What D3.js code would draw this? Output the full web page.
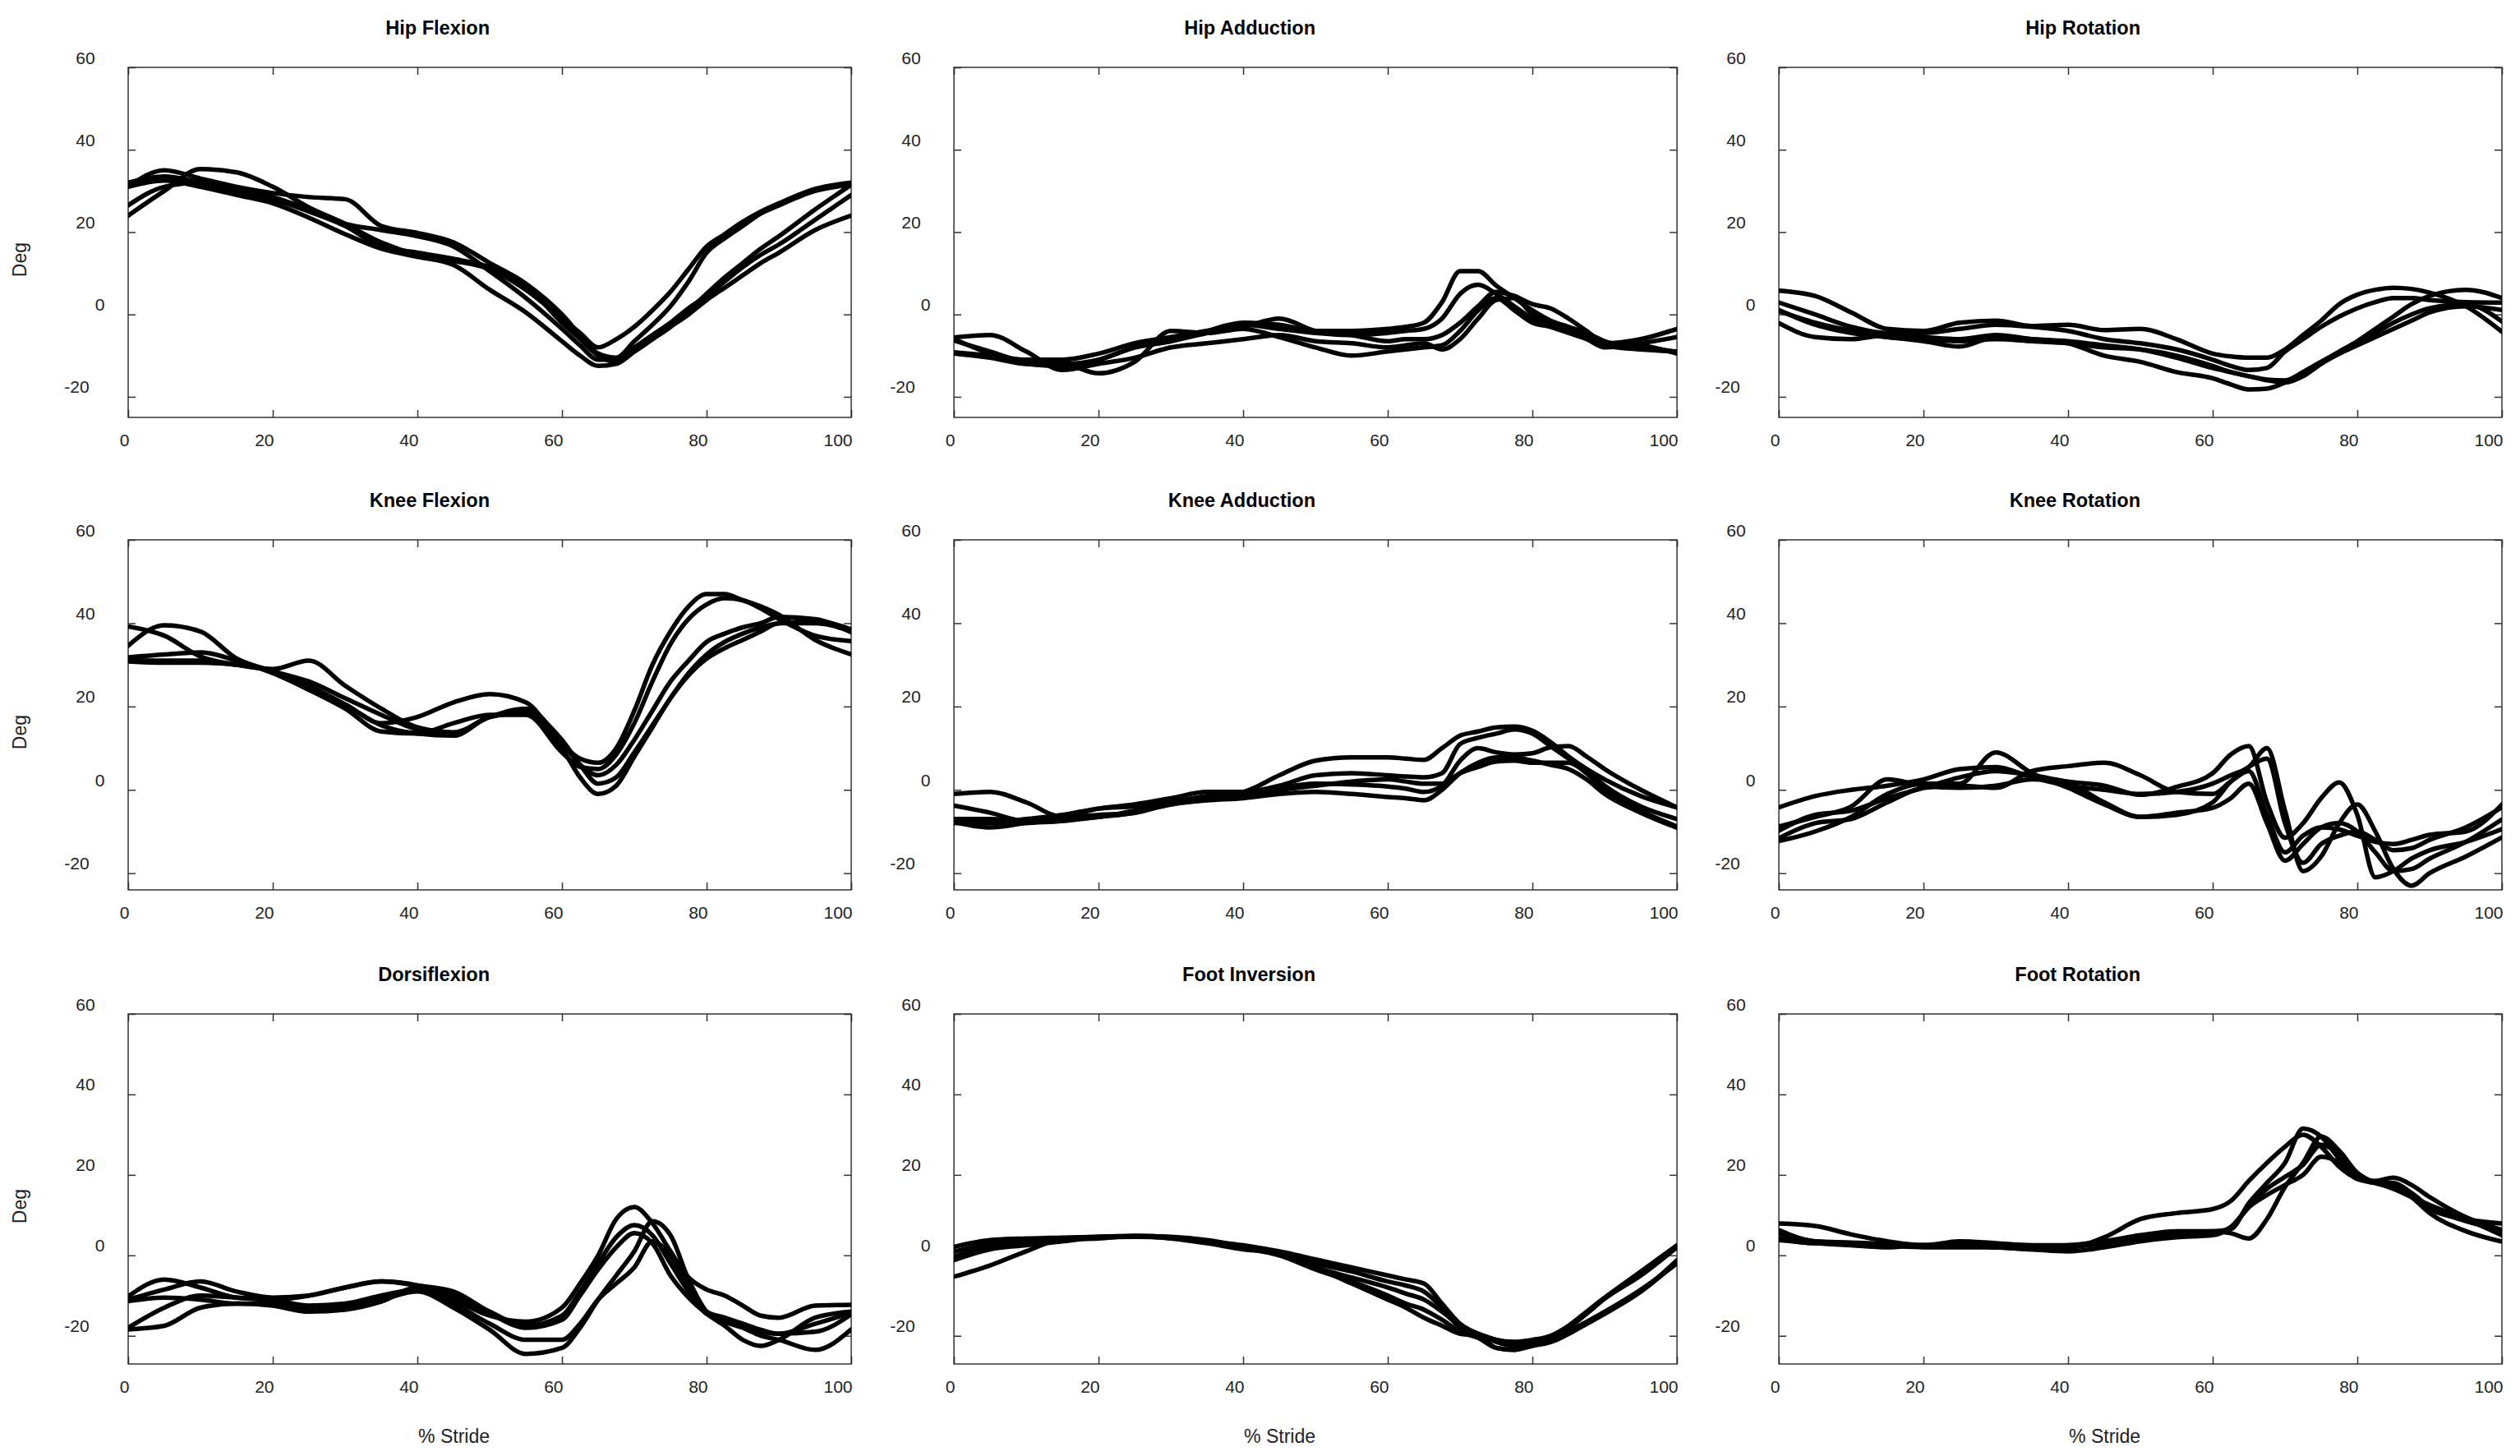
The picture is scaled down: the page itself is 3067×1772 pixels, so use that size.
<!DOCTYPE html>
<html><head>
<meta charset="utf-8">
<title>Joint angles over the stride</title>
<script src="https://d3js.org/d3.v7.min.js"></script>
<style>
  body { margin: 0; background: #fff; }
  text { font-family: Arial, "Liberation Sans", Helvetica, sans-serif; }
</style>
</head>
<body>
<svg id="chart" width="3067" height="1772"></svg>

<script>
// % stride sample points (finer around swing where the curves move fast)
const stride = [0, 5, 10, 15, 20, 25, 30, 35, 40, 45, 50, 55, 60, 62.5, 65, 67.5, 70, 72.5, 75, 77.5, 80, 82.5, 85, 87.5, 90, 95, 100];

const xTicks = [0, 20, 40, 60, 80, 100];
const yTicks = [60, 40, 20, 0, -20];
const rowMin = [-25, -24, -27];   // lower edge of each row of plots
const yMax = 60;

// five trials per joint angle, degrees
const hipFlexion = [
  [24, 30, 35.3, 34.5, 31, 26, 22, 17.5, 14.5, 13, 11, 6, -1, -4.5, -8, -6, -3, 1, 5.5, 11, 16.5, 19.5, 22.5, 25, 27, 30.5, 32],
  [31, 35, 33, 31, 29.5, 28.5, 28, 21.5, 19.8, 17.5, 12.5, 7.5, 0, -5, -9.5, -10.5, -6.5, -2.5, 2, 8, 15, 18.5, 21.5, 24.5, 26.5, 30, 31.5],
  [32, 33.5, 32, 30, 28, 25, 21.5, 16.5, 15, 13.5, 11.5, 7, -2, -6, -10, -11.5, -9, -6, -3, 0, 3.5, 6.5, 9.5, 12.5, 15, 20.5, 24],
  [31, 32.5, 31, 29, 27, 23.5, 19.5, 16, 14, 12, 6, 0.5, -6.5, -10, -12.5, -12, -9, -6, -3, 1, 5, 9, 12.5, 16, 19, 25.5, 31.5],
  [26.5, 31, 32, 30.5, 28.5, 25.5, 22, 20.5, 19, 16.5, 10.5, 4, -3.5, -7.5, -11, -11, -8, -5, -2, 1.5, 4.5, 8, 11.5, 14.5, 17, 23, 29]
];
const hipAdduction = [
  [-6.3, -9, -11.5, -12, -11, -8, -6.5, -4, -2, -2.5, -4, -4, -3.5, -3, -2, 3, 10.5, 10.5, 7, 4, 1, -1.5, -3, -4.5, -6.5, -8, -9],
  [-6, -9.5, -12, -12.5, -11, -8, -6.5, -4.5, -2.5, -3.5, -4.5, -5, -4.5, -4, -3.5, -1, 5, 7.2, 5, 2, -1, -2.5, -4, -5.5, -7, -6, -3.5],
  [-9.2, -10, -11, -11, -9.5, -7, -5.5, -4, -3, -1, -4, -5, -6.5, -6, -6, -5, -2, 2, 5.5, 4.5, 2.5, 1.5, -1, -4, -7, -7.5, -9.5],
  [-9.5, -10.5, -12, -12, -14.3, -11.5, -4, -4.5, -3.5, -5.5, -8, -10, -9, -8.5, -8, -7.5, -4, 1, 4, 1, -2, -3, -4.5, -6, -8, -7, -5.5],
  [-5.6, -5, -9, -13.5, -12, -10.5, -8, -7, -6, -5, -6.5, -7, -8, -7.5, -7, -8.5, -6, -1, 3.5, 4, 0, -2, -4, -5.5, -7.5, -8.5, -9]
];
const hipRotation = [
  [5.8, 4.5, 0.5, -3.5, -4, -2, -1.5, -2.8, -2.5, -3.8, -3.5, -6, -9.5, -10.2, -10.5, -10.5, -8.5, -5, -1.5, 2.5, 4.8, 6, 6.5, 6.2, 5.3, 2, -4.2],
  [2.9, 0, -3, -4.5, -4.5, -3.5, -2.5, -3, -4, -6, -7, -8.5, -11, -12.5, -13.5, -13, -9, -6, -3, -0.5, 1.5, 3, 4, 4, 3.5, 3, 2.9],
  [0.8, -2, -4, -5.5, -6, -6.5, -6, -6.5, -7, -8, -8.5, -10, -12.5, -14, -15, -15.8, -16, -14, -11.5, -9, -6.5, -3.5, -0.5, 2.5, 4.5, 6, 4],
  [-2.1, -5.5, -6, -5, -5.5, -6, -5, -6, -7, -10, -11.5, -14, -15.5, -17, -18.2, -18, -16.5, -14, -11.5, -9.5, -7.5, -5.5, -3.5, -1.5, 0.5, 2, 1.1],
  [1.1, -2.5, -4.5, -5.5, -6.5, -7.8, -5.5, -6, -6.5, -7.5, -8.5, -10.5, -13, -14, -15, -16, -16.5, -15, -12, -9.5, -7, -4.5, -2, 0, 1.5, 2.5, -1.7]
];
const kneeFlexion = [
  [34.6, 39.5, 38, 31.5, 28.5, 26, 22, 18, 14.5, 13.5, 17.5, 18.5, 12, 6, 1.5, 3, 9, 15.5, 22, 28, 32.5, 35.5, 37.5, 39, 40, 40.5, 38.5],
  [39.2, 37, 32, 30, 28.5, 25, 20.5, 15.5, 13.5, 13, 17.5, 18.5, 10, 3, -1, 1, 8, 15, 22, 27.5, 31.5, 34, 36, 38, 40, 40, 38],
  [31.1, 31, 31, 30, 29, 31, 25, 19.5, 15, 13.8, 17.5, 19.5, 11.5, 6, 3.5, 6, 12, 19, 26, 31, 35.5, 37.5, 39, 40, 41.5, 41, 37.8],
  [30.8, 30.5, 30.5, 30, 28.5, 24, 20.5, 16, 17.5, 21, 23, 21, 11, 7.5, 6.5, 10, 19, 30, 38, 44, 47, 47, 45.5, 44, 42, 36, 32.5],
  [31.8, 32.5, 33, 31, 28, 24, 19.5, 14, 13.5, 16, 18, 18, 9, 5.5, 5, 8.5, 16, 26, 35, 41, 44.5, 46, 45.5, 43.5, 41, 37, 35.7]
];
const kneeAdduction = [
  [-1, -0.5, -3, -6.5, -6, -5.5, -3, -1.5, -0.5, 3.5, 7, 7.8, 7.8, 7.5, 7.2, 10, 13, 14, 15, 15.2, 14.2, 11.5, 8, 5, 2.5, -1.5, -4.2],
  [-3.8, -5.5, -7.5, -6.5, -4.5, -3.5, -2, -0.5, -0.5, 1, 3.5, 4, 3.5, 3.2, 3, 4, 11, 12.5, 13.5, 14.5, 13.5, 10.5, 7.5, 4.5, 1, -4, -7],
  [-7, -7, -7.5, -7, -6.5, -5, -3.5, -2, -1, 0.5, 1.5, 1.3, 0.8, 0.3, -0.5, 1, 7, 10, 9, 8.5, 8.8, 10.2, 10.5, 8, 5, 0, -4.2],
  [-7.7, -9, -8, -7.5, -6.5, -5.5, -3.5, -2.5, -2, -1, -0.5, -1, -1.7, -2, -2.5, 0, 4, 6.5, 7.8, 7.8, 7, 6, 5, 2.5, -1, -5.5, -9.1],
  [-8, -8, -7, -6, -4.5, -4, -3, -1.5, -1, 0, 1, 2, 2.5, 2, 1.5, 1.5, 4, 5.5, 6.8, 7, 6.5, 6.5, 6.5, 4, 0, -5, -8.8]
];
const kneeRotation = [
  [-9.8, -6, -5, -2, 0.5, 3, 4.5, 3.5, 2, 1, -1.2, 0.7, 4, 8.5, 10.5, -3, -11.5, -8, -2, 1.8, -6, -21, -19.5, -16.5, -14.5, -12.5, -9.4],
  [-4.2, -1.5, 0, 1, 2.5, 5, 5.5, 3, 1, 0, -1, -0.5, 1.5, 3.5, 5.5, 10, -5, -19.5, -16, -8, -3.5, -10, -19, -23, -20, -16, -11.4],
  [-8.8, -6.5, -4, 2.5, 1, 0.5, 1, 2.5, 1.5, -3, -6.5, -6, -3, 2, 5.5, 7.5, -8, -17.5, -13, -11, -10, -12, -14.5, -14, -12, -9, -4.2],
  [-11.6, -8, -7, -3, 0.5, 1, 0.5, 4.5, 5.7, 6.5, 3.5, -0.5, -1, 2, 4.5, -6, -15, -11, -9, -9.5, -11, -12.5, -13, -12, -10.8, -10, -3.5],
  [-12.3, -10, -6.5, -1, 1.5, 1.5, 9, 4, 0.5, -3.5, -6.5, -5.5, -4.3, -2, 1.5, -8, -17, -13, -9, -8, -10, -15, -19.5, -19, -16.5, -12.5, -7.1]
];
const dorsiflexion = [
  [-10.2, -6, -8, -10.5, -11, -10, -8, -6.5, -7.5, -11, -15, -16.5, -13, -7, 0, 9, 12, 8, 1, -5.5, -8.5, -10, -12.5, -15, -15.5, -12.5, -12.3],
  [-11.4, -10.5, -11, -12, -12, -13.5, -12.5, -11, -9, -13, -18.5, -24.5, -23, -18, -11, -5, 1, 8.5, 5, -6, -14, -16.5, -18, -20, -21, -23.5, -18.4],
  [-18, -13, -10, -10.5, -11, -12.5, -12, -10, -8.5, -12, -17, -21, -21, -17, -11, -7, -3, 3.5, 0, -8, -14, -15.5, -17, -18.5, -19.5, -17, -14.3],
  [-11, -8.5, -6.5, -9, -10.5, -10, -8, -6.5, -7.5, -9, -14, -17.5, -15, -9, -2, 4.5, 7.5, 5, -2, -9, -14.5, -16, -17, -19, -19.5, -19, -14.7],
  [-18.4, -17.5, -13, -12, -12.5, -14, -13.5, -11.5, -8, -10, -14.5, -18, -16, -10, -3.5, 2, 5.5, 3, -5, -10.5, -14.5, -17.5, -21, -22.5, -21, -15.5, -14]
];
const footInversion = [
  [2.1, 3.8, 4.2, 4.4, 4.6, 4.8, 4.5, 3.5, 2.5, 1, -1, -3, -5, -6, -7, -12, -17, -19.5, -21, -21.5, -21, -20, -17.5, -14, -10.5, -4, 2.5],
  [0.9, 2.8, 3.5, 4.2, 4.6, 4.8, 4.6, 3.8, 2.2, 0.5, -2, -4, -6.5, -7.5, -9, -13, -18, -19.5, -21, -21.8, -21.5, -20.5, -18, -14.5, -10.8, -5, 2],
  [-0.3, 2, 3, 3.8, 4.5, 4.7, 4.2, 3, 1.5, 0.5, -3, -5.5, -8, -9.5, -11, -14, -17.5, -19.5, -21.5, -22.5, -22, -21.5, -19.5, -17, -14.5, -9, -1.2],
  [-1.2, 1.5, 2.5, 3.5, 4.4, 4.6, 4.3, 3.2, 1.8, 0, -3.5, -6.5, -10, -12, -13.5, -16, -19, -20.5, -23, -23.5, -22.5, -21.5, -19, -16.5, -14, -8.5, -2],
  [-5.3, -2.5, 1, 4, 4.2, 4.8, 4.4, 3.5, 2, 0.5, -3, -7, -11, -13, -15.5, -17.5, -19.5, -20, -23, -23.5, -22, -21.5, -19.5, -17, -14.5, -9, -1.8]
];
const footRotation = [
  [7.9, 7.3, 5.2, 3.5, 2.5, 2.5, 2.5, 2, 2, 4.5, 9, 10.5, 11.5, 13.5, 18.5, 23, 27, 30, 27, 22, 19, 18, 16.5, 14.5, 12.5, 9, 5],
  [6.3, 3.5, 3.2, 2.8, 2.5, 3.5, 3, 2.5, 2.5, 3.5, 5, 6, 6, 6.5, 13, 18, 23, 31.5, 29.5, 24, 19.5, 18, 18, 15.5, 12, 8.5, 6.3],
  [5.4, 3.5, 3, 2.5, 2, 2, 2, 1.5, 2, 3, 4.5, 5.5, 6, 5.5, 4.2, 9, 17, 23, 29.5, 26, 20.5, 18, 17, 14.5, 11.5, 9, 7.9],
  [4.2, 3, 3, 2.5, 2.5, 2.5, 2, 2, 2.5, 3.5, 4.5, 5, 5.5, 7, 12, 16.5, 19.5, 22.5, 27.5, 25, 19.5, 18, 17.5, 14.5, 10.5, 6, 3.4],
  [3.8, 3, 2.5, 2, 2.5, 2.5, 2, 1.5, 1, 2, 3.5, 4.5, 5, 7, 12, 15, 17.5, 20, 24.5, 23, 19, 18.5, 19.3, 17.5, 14.5, 9.5, 6.3]
];

const panels = [
  { title: "Hip Flexion", trials: hipFlexion },
  { title: "Hip Adduction", trials: hipAdduction },
  { title: "Hip Rotation", trials: hipRotation },
  { title: "Knee Flexion", trials: kneeFlexion },
  { title: "Knee Adduction", trials: kneeAdduction },
  { title: "Knee Rotation", trials: kneeRotation },
  { title: "Dorsiflexion", trials: dorsiflexion },
  { title: "Foot Inversion", trials: footInversion },
  { title: "Foot Rotation", trials: footRotation }
];

const svg = d3.select("#chart");
const colLeft = [156, 1161, 2165];
const rowTop = [82, 657, 1234];
const boxW = 880, boxH = 426;
const tickLen = 9;
const plain = d => String(d);   // keep the ASCII hyphen on negative labels

panels.forEach((p, i) => {
  const row = Math.floor(i / 3), col = i % 3;
  const g = svg.append("g").attr("transform", "translate(" + colLeft[col] + "," + rowTop[row] + ")");

  const x = d3.scaleLinear().domain([0, 100]).range([0, boxW]);
  const y = d3.scaleLinear().domain([rowMin[row], yMax]).range([boxH, 0]);

  g.append("clipPath").attr("id", "clip" + i)
    .append("rect").attr("width", boxW).attr("height", boxH);

  // inward ticks on all four sides
  const bottom = g.append("g").attr("transform", "translate(0," + boxH + ")")
    .call(d3.axisBottom(x).tickValues(xTicks).tickSize(-tickLen).tickPadding(0).tickFormat(plain));
  g.append("g").call(d3.axisTop(x).tickValues(xTicks).tickSize(-tickLen).tickFormat(""));
  const left = g.append("g")
    .call(d3.axisLeft(y).tickValues(yTicks).tickSize(-tickLen).tickPadding(0).tickFormat(plain));
  g.append("g").attr("transform", "translate(" + boxW + ",0)")
    .call(d3.axisRight(y).tickValues(yTicks).tickSize(-tickLen).tickFormat(""));

  g.selectAll(".domain").remove();
  g.selectAll(".tick line").attr("stroke", "#333").attr("stroke-width", 1.5);
  g.selectAll(".tick text").attr("fill", "#222").attr("font-size", 21)
    .attr("font-family", "Arial, 'Liberation Sans', sans-serif");

  // x labels sit with their right edge on the tick
  bottom.selectAll(".tick text")
    .attr("text-anchor", "end").attr("x", 1).attr("y", 35).attr("dy", null);

  // y labels sit just above their tick, pushed left by twice their width
  left.selectAll(".tick text").each(function () {
    const t = d3.select(this).attr("text-anchor", "start").attr("dy", null).attr("y", -5);
    const w = this.getComputedTextLength();
    t.attr("x", -17 - 2 * w);
  });

  // frame
  g.append("rect").attr("width", boxW).attr("height", boxH)
    .attr("fill", "none").attr("stroke", "#333").attr("stroke-width", 1.5);

  const line = d3.line()
    .x((d, k) => x(stride[k]))
    .y(d => y(d))
    .curve(d3.curveMonotoneX);

  g.append("g").attr("clip-path", "url(#clip" + i + ")")
    .selectAll("path").data(p.trials).join("path")
    .attr("d", line)
    .attr("fill", "none")
    .attr("stroke", "#000")
    .attr("stroke-width", 5.5)
    .attr("stroke-linejoin", "round")
    .attr("stroke-linecap", "round");

  g.append("text")
    .attr("x", boxW / 2).attr("y", -40)
    .attr("text-anchor", "end")
    .attr("font-size", 23.5).attr("font-weight", "bold").attr("fill", "#000")
    .text(p.title);

  if (col === 0) {
    svg.append("text")
      .attr("transform", "translate(32," + (rowTop[row] + boxH / 2) + ") rotate(-90)")
      .attr("text-anchor", "end")
      .attr("font-size", 23).attr("fill", "#222")
      .text("Deg");
  }
  if (row === 2) {
    g.append("text")
      .attr("x", boxW / 2).attr("y", boxH + 96)
      .attr("text-anchor", "end")
      .attr("font-size", 23).attr("fill", "#222")
      .text("% Stride");
  }
});
</script>
</body>
</html>
